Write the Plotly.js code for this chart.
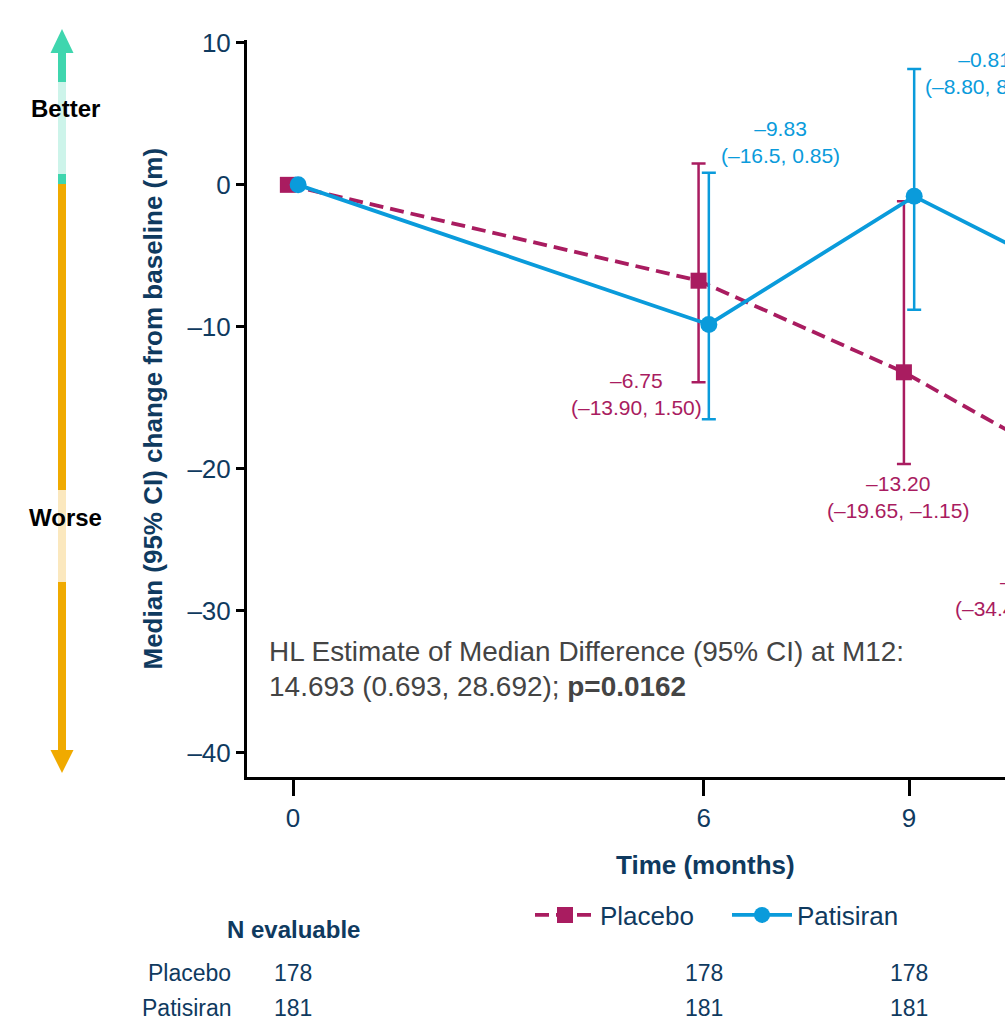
<!DOCTYPE html>
<html><head><meta charset="utf-8">
<script src="https://cdn.plot.ly/plotly-3.0.1.min.js"></script>
<style>html,body{margin:0;padding:0;overflow:hidden;background:#fff}</style>
</head><body><div id="chart" style="width:1200px;height:1022px"></div>
<script>
// ---------------- data ----------------
const months = [0, 6, 9, 12];
const placeboMedian = [0, -6.75, -13.20, -21.30];
const placeboLower = [null, -13.90, -19.65, -34.45];
const placeboUpper = [null, 1.50, -1.15, -10.35];
const patisiranMedian = [0, -9.83, -0.81, -8.15];
const patisiranLower = [null, -16.5, -8.80, -17.20];
const patisiranUpper = [null, 0.85, 8.15, 1.85];
const placeboLabelValue = ["", "–6.75", "–13.20", "–21.30"];
const placeboLabelCI = ["", "(–13.90, 1.50)", "(–19.65, –1.15)", "(–34.45, –10.35)"];
const patisiranLabelValue = ["", "–9.83", "–0.81", "–8.15"];
const patisiranLabelCI = ["", "(–16.5, 0.85)", "(–8.80, 8.15)", "(–17.20, 1.85)"];
const placeboN = [178, 178, 178, 178];
const patisiranN = [181, 181, 181, 181];
const xTickVals = [0, 6, 9, 12];
const xTickText = ["0", "6", "9", "12"];
const yTickVals = [10, 0, -10, -20, -30, -40];
const yTickText = ["10", "0", "–10", "–20", "–30", "–40"];
const seriesNames = ["Placebo", "Patisiran"];

// ---------------- styling / layout ----------------
const FONT = "Liberation Sans, Arial, sans-serif";
const NAVY = "#0f3a5f";
const MAG = "#a91c60";
const BLUE = "#0a9bdb";
const W = 1200, H = 1022, ML = 247, MR = 37, MT = 40, MB = 245;
const PW = W - ML - MR, PH = H - MT - MB;
const px = v => (v - ML) / PW;        // pixel x -> paper x
const py = v => (H - MB - v) / PH;    // pixel y -> paper y
const DODGE = 0.075;

function err(med, lo, hi) {
  return {
    type: "data", symmetric: false,
    array: med.map((m, i) => hi[i] == null ? null : hi[i] - m),
    arrayminus: med.map((m, i) => lo[i] == null ? null : m - lo[i]),
    thickness: 2.5, width: 7
  };
}

const placebo = {
  name: seriesNames[0], x: months.map(m => m - DODGE), y: placeboMedian,
  mode: "lines+markers", line: {color: MAG, width: 3.8, dash: "14px,7px"},
  marker: {symbol: "square", size: 16, color: MAG},
  error_y: Object.assign(err(placeboMedian, placeboLower, placeboUpper), {color: MAG})
};
const patisiran = {
  name: seriesNames[1], x: months.map(m => m + DODGE), y: patisiranMedian,
  mode: "lines+markers", line: {color: BLUE, width: 3.8},
  marker: {symbol: "circle", size: 17, color: BLUE},
  error_y: Object.assign(err(patisiranMedian, patisiranLower, patisiranUpper), {color: BLUE})
};

const ann = [];
// HL estimate text (index 0)
ann.push({xref: "paper", yref: "paper", x: px(267), y: py(669), xanchor: "left", yanchor: "middle",
  align: "left", showarrow: false, font: {family: FONT, size: 27, color: "#444444"},
  text: "HL Estimate of Median Difference (95% CI) at M12:<br>14.693 (0.693, 28.692); <b>p=0.0162</b>"});

// data labels
const plPos = [null, {x: 6.0, y: -14.7, xa: "right"}, {x: 8.84, y: -22.0, xa: "center"}, {x: 11.95, y: -28.9, xa: "right"}];
const paPos = [null, {x: 6.22, y: 3.0, xa: "left"}, {x: 9.2, y: 7.85, xa: "left"}, {x: 12.22, y: 5.0, xa: "left"}];
months.forEach((m, i) => {
  if (plPos[i]) ann.push({xref: "x", yref: "y", x: plPos[i].x, y: plPos[i].y, xanchor: plPos[i].xa, yanchor: "middle",
    align: "center", showarrow: false, font: {family: FONT, size: 21, color: MAG},
    text: placeboLabelValue[i] + "<br>" + placeboLabelCI[i]});
  if (paPos[i]) ann.push({xref: "x", yref: "y", x: paPos[i].x, y: paPos[i].y, xanchor: paPos[i].xa, yanchor: "middle",
    align: "center", showarrow: false, font: {family: FONT, size: 21, color: BLUE},
    text: patisiranLabelValue[i] + "<br>" + patisiranLabelCI[i]});
});

// y title
ann.push({xref: "paper", yref: "paper", x: px(152), y: 0.5, xanchor: "center", yanchor: "middle", textangle: -90,
  showarrow: false, font: {family: FONT, size: 26, color: NAVY},
  text: "<b>Median (95% CI) change from baseline (m)</b>"});
// x title
ann.push({xref: "paper", yref: "paper", x: 0.5, y: py(865), xanchor: "center", yanchor: "middle",
  showarrow: false, font: {family: FONT, size: 26, color: NAVY}, text: "<b>Time (months)</b>"});

// Better / Worse
ann.push({xref: "paper", yref: "paper", x: px(65), y: py(108), xanchor: "center", yanchor: "middle",
  showarrow: false, font: {family: FONT, size: 24, color: "#000"}, text: "<b>Better</b>"});
ann.push({xref: "paper", yref: "paper", x: px(65), y: py(517), xanchor: "center", yanchor: "middle",
  showarrow: false, font: {family: FONT, size: 24, color: "#000"}, text: "<b>Worse</b>"});

// N evaluable table
ann.push({xref: "paper", yref: "paper", x: px(293), y: py(929), xanchor: "center", yanchor: "middle",
  showarrow: false, font: {family: FONT, size: 24, color: NAVY}, text: "<b>N evaluable</b>"});
const rowY = [py(973), py(1008)];
const rowN = [placeboN, patisiranN];
seriesNames.forEach((nm, r) => {
  ann.push({xref: "paper", yref: "paper", x: px(233), y: rowY[r], xanchor: "right", yanchor: "middle",
    showarrow: false, font: {family: FONT, size: 23, color: NAVY}, text: nm});
  months.forEach((m, i) => ann.push({xref: "x", yref: "paper", x: m, y: rowY[r], xanchor: "center", yanchor: "middle",
    showarrow: false, font: {family: FONT, size: 23, color: NAVY}, text: String(rowN[r][i])}));
});

// Better/Worse arrow shapes
const TEAL = "#3fd6ae", TEAL_L = "#cdf4ea", OR = "#f0aa00", OR_L = "#fbe8be";
const segs = [[52, 82, TEAL], [82, 174, TEAL_L], [174, 184, TEAL], [184, 490, OR], [490, 582, OR_L], [582, 751, OR]];
const shapes = segs.map(s => ({type: "rect", xref: "paper", yref: "paper", x0: px(58), x1: px(66),
  y0: py(s[0]), y1: py(s[1]), fillcolor: s[2], line: {width: 0}}));
const tri = (tip, base, col) => ({type: "path", xref: "paper", yref: "paper", fillcolor: col, line: {width: 0},
  path: `M${px(62)},${py(tip)} L${px(50.5)},${py(base)} L${px(73.5)},${py(base)} Z`});
shapes.push(tri(29, 53, TEAL), tri(773, 750, OR));

const layout = {
  width: W, height: H, margin: {l: ML, r: MR, t: MT, b: MB},
  paper_bgcolor: "#fff", plot_bgcolor: "#fff",
  font: {family: FONT, color: NAVY},
  showlegend: true,
  legend: {orientation: "h", x: px(530), y: py(915), xanchor: "left", yanchor: "middle",
    font: {family: FONT, size: 26, color: NAVY}, itemwidth: 60, entrywidth: 122, entrywidthmode: "pixels",
    bgcolor: "rgba(0,0,0,0)"},
  xaxis: {range: [-0.672, 12.71], tickvals: xTickVals, ticktext: xTickText, showgrid: false, zeroline: false,
    showline: true, linecolor: "#000", linewidth: 3, ticks: "outside", ticklen: 16, tickwidth: 3, tickcolor: "#000",
    tickfont: {family: FONT, size: 26, color: NAVY}, ticklabelstandoff: 0},
  yaxis: {range: [-41.7, 10.2], tickvals: yTickVals, ticktext: yTickText, showgrid: false, zeroline: false,
    showline: true, linecolor: "#000", linewidth: 3, ticks: "outside", ticklen: 8, tickwidth: 3, tickcolor: "#000",
    tickfont: {family: FONT, size: 26, color: NAVY}, ticklabelstandoff: 0},
  annotations: ann, shapes: shapes
};

Plotly.newPlot("chart", [placebo, patisiran], layout, {displayModeBar: false, staticPlot: true}).then(() => {
  document.querySelectorAll('#chart g.annotation[data-index="0"] text.annotation-text').forEach(t => {
    const tr = t.getAttribute("transform") || "";
    t.setAttribute("transform", tr + " scale(1.035,1)");
  });
});
</script></body></html>
